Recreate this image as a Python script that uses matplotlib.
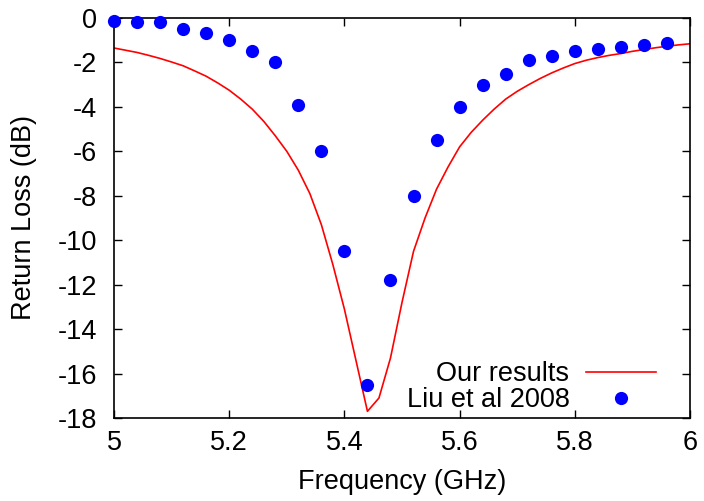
import matplotlib
matplotlib.use("Agg")
import matplotlib.pyplot as plt

plt.rcParams['font.family'] = ['Liberation Sans', 'DejaVu Sans']
plt.rcParams['axes.unicode_minus'] = False

# Simulation curve ("Our results")
sim_freq = [5.00, 5.02, 5.04, 5.06, 5.08, 5.10, 5.12, 5.14, 5.16, 5.18,
            5.20, 5.22, 5.24, 5.26, 5.28, 5.30, 5.32, 5.34, 5.36, 5.38,
            5.40, 5.42, 5.44, 5.46, 5.48, 5.50, 5.52, 5.54, 5.56, 5.58,
            5.60, 5.62, 5.64, 5.66, 5.68, 5.70, 5.72, 5.74, 5.76, 5.78,
            5.80, 5.82, 5.84, 5.86, 5.88, 5.90, 5.92, 5.94, 5.96, 5.98, 6.00]
sim_rl = [-1.35, -1.45, -1.55, -1.68, -1.82, -1.98, -2.15, -2.38, -2.62, -2.92,
          -3.25, -3.65, -4.1, -4.65, -5.3, -6.0, -6.85, -7.9, -9.3, -11.1,
          -13.1, -15.4, -17.7, -17.1, -15.3, -12.8, -10.5, -9.0, -7.7, -6.7,
          -5.8, -5.15, -4.6, -4.1, -3.65, -3.3, -3.0, -2.72, -2.47, -2.25,
          -2.05, -1.9, -1.78, -1.68, -1.6, -1.5, -1.42, -1.34, -1.27, -1.21, -1.16]

# Measured points ("Liu et al 2008")
meas_freq = [5.00, 5.04, 5.08, 5.12, 5.16, 5.20, 5.24, 5.28, 5.32, 5.36,
             5.40, 5.44, 5.48, 5.52, 5.56, 5.60, 5.64, 5.68, 5.72, 5.76,
             5.80, 5.84, 5.88, 5.92, 5.96]
meas_rl = [-0.12, -0.19, -0.19, -0.51, -0.69, -1.0, -1.5, -2.0, -3.92, -6.0,
           -10.5, -16.5, -11.8, -8.0, -5.5, -4.0, -3.0, -2.5, -1.9, -1.71,
           -1.49, -1.4, -1.29, -1.2, -1.14]

xticks = [5.0, 5.2, 5.4, 5.6, 5.8, 6.0]
xticklabels = ["5", "5.2", "5.4", "5.6", "5.8", "6"]
yticks = list(range(-18, 1, 2))

FS = 19.5

fig = plt.figure(figsize=(7.04, 5.01), dpi=100)
ax = fig.add_axes([114/704, 1-418/501, (690-114)/704, (418-18)/501])

ax.plot(sim_freq, sim_rl, color='#ff0000', lw=1.2, label='Our results')
ax.plot(meas_freq, meas_rl, 'o', color='#0000ff', ms=9.5, mec='none',
        label='Liu et al 2008', clip_on=False, zorder=5)

ax.set_xlim(5, 6)
ax.set_ylim(-18, 0)
ax.set_xticks(xticks)
ax.set_xticklabels(xticklabels)
ax.set_yticks(yticks)
ax.tick_params(direction='in', top=True, right=True, length=6, width=1,
               labelsize=FS)
ax.tick_params(axis='x', pad=9)
ax.tick_params(axis='y', pad=12)
for s in ax.spines.values():
    s.set_linewidth(1.2)

ax.set_xlabel('Frequency (GHz)', fontsize=FS, labelpad=9)
ax.set_ylabel('Return Loss (dB)', fontsize=FS, labelpad=15)

ax.legend(loc='lower right', frameon=False, markerfirst=False, fontsize=FS,
          handlelength=2.6, handletextpad=0.6, labelspacing=0.0,
          borderaxespad=0.0, bbox_to_anchor=(0.96, -0.015))

fig.savefig('out.png', dpi=100)
